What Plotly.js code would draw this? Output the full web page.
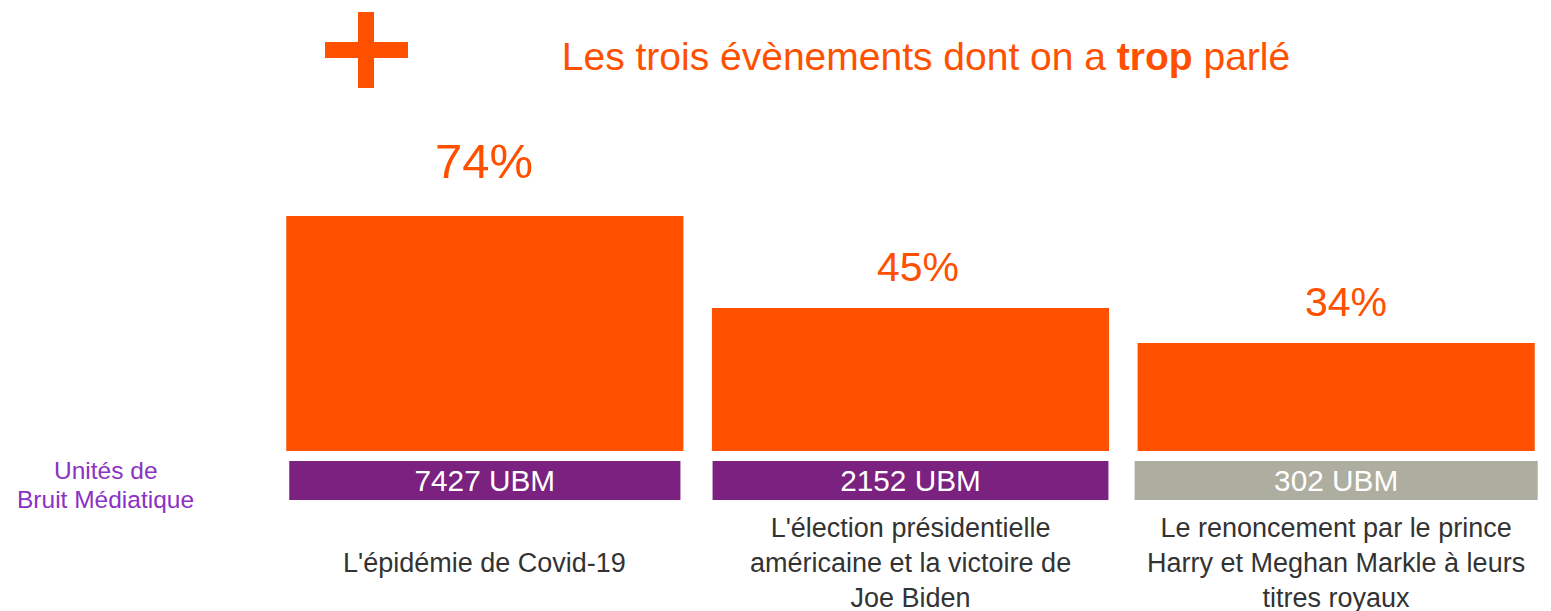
<!DOCTYPE html>
<html>
<head>
<meta charset="utf-8">
<script src="https://cdn.plot.ly/plotly-3.0.1.min.js"></script>
<style>html,body{margin:0;padding:0;background:#fff;}#chart{width:1551px;height:611px;}</style>
</head>
<body>
<div id="chart"></div>
<script>
// ---- data ----
const categories = ["covid", "election", "harry"];
const categoryLabels = [
  "L'épidémie de Covid-19",
  "L'élection présidentielle<br>américaine et la victoire de<br>Joe Biden",
  "Le renoncement par le prince<br>Harry et Meghan Markle à leurs<br>titres royaux"
];
const percentValues = [74, 45, 34];
const ubmValues = [7427, 2152, 302];
const titleText = "Les trois évènements dont on a <b>trop</b> parlé";
const sideLabelLines = ["Unités de", "Bruit Médiatique"];

// ---- styles ----
const ORANGE = "#FF5000";
const ubmColors = ["#7B2180", "#7B2180", "#ADADA0"];
const ubmWidths = [0.919, 0.930, 0.947];
const pctSizes = [49, 41, 41];
const pctShifts = [26, 16, 16];
const pctXShifts = [-1, 7, 10];
const FONT = "Liberation Sans, Arial, sans-serif";

const W = 1551, H = 611;
const mL = 272, mR = 2, mT = 100, mB = 111;
const plotW = W - mL - mR, plotH = H - mT - mB;
const px2x = p => (p - mL) / plotW;
const py2y = p => (H - mB - p) / plotH;

const barTrace = {
  type: "bar", x: categories, y: percentValues,
  marker: {color: ORANGE}, xaxis: "x", yaxis: "y",
  hoverinfo: "skip", showlegend: false
};
const ubmTrace = {
  type: "bar", x: categories, y: categories.map(() => 1),
  width: ubmWidths,
  marker: {color: ubmColors}, xaxis: "x", yaxis: "y2",
  text: ubmValues.map(v => v + " UBM"), textposition: "inside",
  insidetextanchor: "middle", textangle: 0,
  textfont: {color: "#FFFFFF", size: 32.5, family: FONT},
  hoverinfo: "skip", showlegend: false, cliponaxis: false
};

const annotations = [];
categories.forEach((c, i) => {
  annotations.push({
    x: c, y: percentValues[i], xref: "x", yref: "y",
    text: percentValues[i] + "%", showarrow: false,
    xanchor: "center", yanchor: "bottom", yshift: pctShifts[i], xshift: pctXShifts[i],
    font: {color: ORANGE, size: pctSizes[i], family: FONT}
  });
  annotations.push({
    x: c, y: py2y(563), xref: "x", yref: "paper",
    text: categoryLabels[i], showarrow: false,
    xanchor: "center", yanchor: "middle",
    font: {color: "#333333", size: 27, family: FONT}
  });
});
const sideY = [470.5, 499.5];
sideLabelLines.forEach((t, i) => {
  annotations.push({
    x: px2x(105.5), y: py2y(sideY[i]), xref: "paper", yref: "paper",
    text: t, showarrow: false, xanchor: "center", yanchor: "middle",
    font: {color: "#8A32C4", size: 24.5, family: FONT}
  });
});

const layout = {
  width: W, height: H,
  margin: {l: mL, r: mR, t: mT, b: mB, pad: 0},
  paper_bgcolor: "#FFFFFF", plot_bgcolor: "#FFFFFF",
  font: {family: FONT},
  bargap: 0.067,
  title: {
    text: titleText, x: 926 / W, xref: "container", xanchor: "center",
    y: 1 - 56 / H, yref: "container", yanchor: "middle",
    font: {color: ORANGE, size: 39, family: FONT}
  },
  xaxis: {anchor: "y2", showticklabels: false, showgrid: false, zeroline: false,
          showline: false, ticks: "", fixedrange: true},
  yaxis: {domain: [py2y(451), 1], range: [0, (451 - mT) / (235 / 74)],
          visible: false, fixedrange: true},
  yaxis2: {domain: [0, py2y(461)], range: [0, 1], visible: false, fixedrange: true},
  shapes: [
    {type: "rect", xref: "paper", yref: "paper", x0: px2x(358), x1: px2x(374),
     y0: py2y(88), y1: py2y(12), fillcolor: ORANGE, line: {width: 0}},
    {type: "rect", xref: "paper", yref: "paper", x0: px2x(325), x1: px2x(408),
     y0: py2y(58), y1: py2y(42), fillcolor: ORANGE, line: {width: 0}}
  ],
  annotations: annotations
};

Plotly.newPlot("chart", [barTrace, ubmTrace], layout, {displayModeBar: false, staticPlot: true});
</script>
</body>
</html>
